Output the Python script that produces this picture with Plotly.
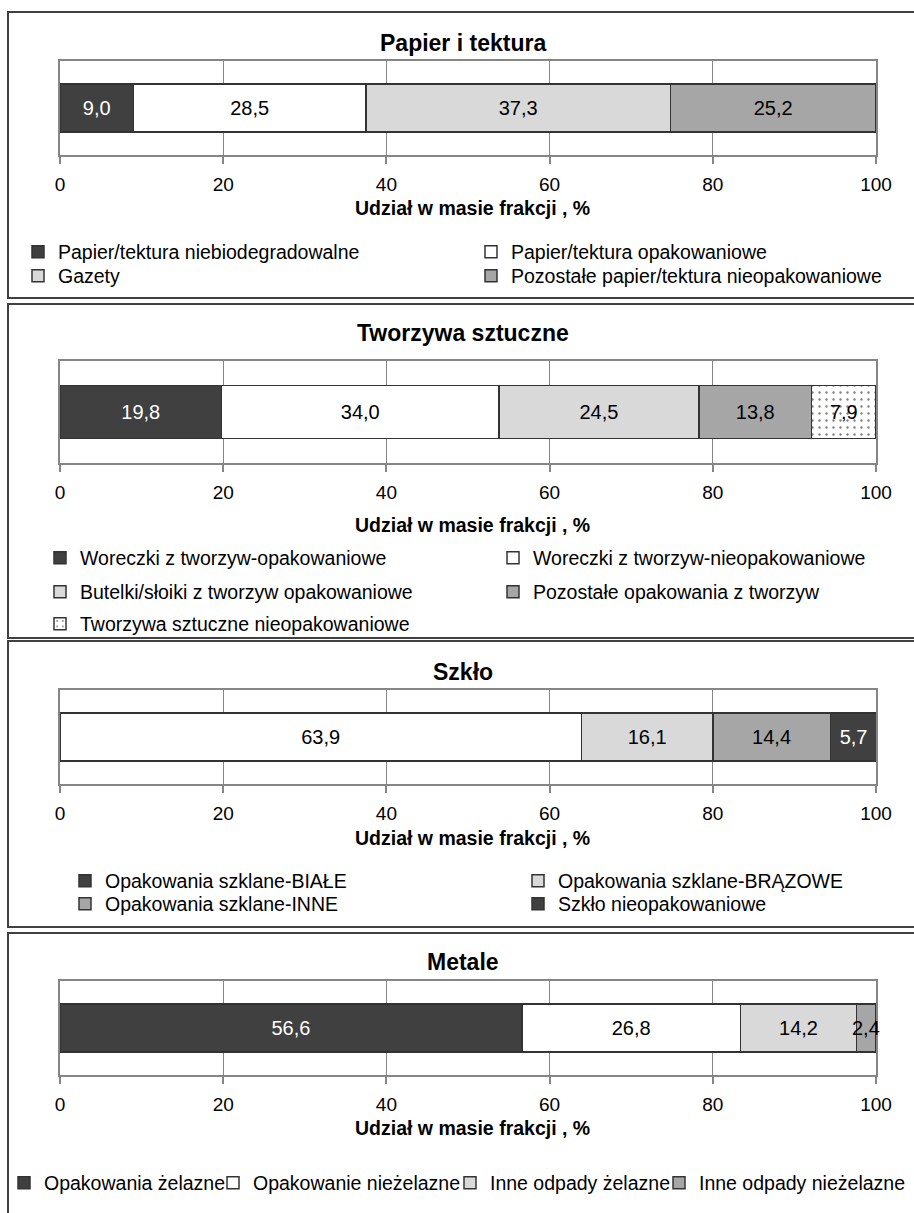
import plotly.graph_objects as go

W, H = 914, 1213

# ---------------- data ----------------
panel_titles = ["Papier i tektura", "Tworzywa sztuczne", "Szkło", "Metale"]
axis_title = "Udział w masie frakcji , %"
x_ticks = [0, 20, 40, 60, 80, 100]

papier_labels = ["Papier/tektura niebiodegradowalne", "Papier/tektura opakowaniowe",
                 "Gazety", "Pozostałe papier/tektura nieopakowaniowe"]
papier_values = [9.0, 28.5, 37.3, 25.2]

tworzywa_labels = ["Woreczki z tworzyw-opakowaniowe", "Woreczki z tworzyw-nieopakowaniowe",
                   "Butelki/słoiki z tworzyw opakowaniowe", "Pozostałe opakowania z tworzyw",
                   "Tworzywa sztuczne nieopakowaniowe"]
tworzywa_values = [19.8, 34.0, 24.5, 13.8, 7.9]

szklo_labels = ["Opakowania szklane-BIAŁE", "Opakowania szklane-BRĄZOWE",
                "Opakowania szklane-INNE", "Szkło nieopakowaniowe"]
szklo_values = [63.9, 16.1, 14.4, 5.7]

metale_labels = ["Opakowania żelazne", "Opakowanie nieżelazne",
                 "Inne odpady żelazne", "Inne odpady nieżelazne"]
metale_values = [56.6, 26.8, 14.2, 2.4]

# ---------------- styles ----------------
DARK, WHITE, LIGHT, MID = "#404040", "#ffffff", "#d9d9d9", "#a6a6a6"
FONT = "Liberation Sans, Arial, sans-serif"
OUTLINE = "#333333"
GRID = "#868686"

def py(y):
    return 1 - y / H

def px(x):
    return x / W

def fmt(v):
    return f"{v:.1f}".replace(".", ",")

panels = [
    dict(labels=papier_labels, values=papier_values,
         colors=[DARK, WHITE, LIGHT, MID], legend_colors=[DARK, WHITE, LIGHT, MID],
         txtcol=["white", "black", "black", "black"],
         plot=(61, 155), title_y=43, atitle_y=208,
         rows=[([0, 1], 252), ([2, 3], 276)], text_x=58, colw=[408, 400]),
    dict(labels=tworzywa_labels, values=tworzywa_values,
         colors=[DARK, WHITE, LIGHT, MID, "pattern"], legend_colors=None,
         txtcol=["white", "black", "black", "black", "black"],
         plot=(361, 463), title_y=333, atitle_y=525,
         rows=[([0, 1], 558), ([2, 3], 592), ([4], 624)], text_x=80, colw=[408, 400]),
    dict(labels=szklo_labels, values=szklo_values,
         colors=[WHITE, LIGHT, MID, DARK], legend_colors=[DARK, LIGHT, MID, DARK],
         txtcol=["black", "black", "black", "white"],
         plot=(690, 784), title_y=672, atitle_y=838,
         rows=[([0, 1], 881), ([2, 3], 904)], text_x=105, colw=[408, 400]),
    dict(labels=metale_labels, values=metale_values,
         colors=[DARK, WHITE, LIGHT, MID], legend_colors=None,
         txtcol=["white", "black", "black", "black"],
         plot=(981, 1075), title_y=962, atitle_y=1128,
         rows=[([0, 1, 2, 3], 1183)], text_x=44, colw=[164, 192, 164, 205]),
]
borders = [(12, 298), (304, 638), (641, 927), (933, 1230)]

fig = go.Figure()
layout = dict(
    width=W, height=H,
    margin=dict(l=0, r=0, t=0, b=0, autoexpand=False),
    paper_bgcolor="white", plot_bgcolor="white",
    barmode="stack", bargap=0.485,
    separators=", ",
    showlegend=True,
    font=dict(family=FONT, color="black", size=19),
    annotations=[], shapes=[],
)

legend_counter = 0
for pi, p in enumerate(panels):
    n = pi + 1
    xa = "x" if n == 1 else f"x{n}"
    ya = "y" if n == 1 else f"y{n}"
    cat = panel_titles[pi]

    # legends for this panel: one legend per row
    item_legend = {}
    for items, row_y in p["rows"]:
        legend_counter += 1
        lid = "legend" if legend_counter == 1 else f"legend{legend_counter}"
        layout[lid] = dict(
            orientation="h", x=px(p["text_x"] - 40), xanchor="left",
            y=py(row_y), yanchor="middle", traceorder="normal",
            font=dict(family=FONT, size=19.5, color="black"),
            bgcolor="rgba(0,0,0,0)", borderwidth=0,
            entrywidthmode="pixels",
        )
        for k, it in enumerate(items):
            item_legend[it] = (lid, p["colw"][k] if len(items) > 1 else 0)

    cum = 0.0
    for i, (lab, val) in enumerate(zip(p["labels"], p["values"])):
        col = p["colors"][i]
        if col == "pattern":
            marker = dict(color="white",
                          pattern=dict(shape=".", fgcolor="black", bgcolor="white",
                                       size=7, solidity=0.09, fillmode="overlay"),
                          line=dict(color=OUTLINE, width=1.5))
        else:
            marker = dict(color=col, line=dict(color=OUTLINE, width=1.5))
        lid, lw = item_legend[i]
        separate_legend = p["legend_colors"] is not None and p["legend_colors"][i] != col
        narrow = val < 4  # label wider than its bar: drawn unclipped as annotation
        tr = dict(
            x=[val], y=[cat], orientation="h", name=lab,
            xaxis=xa, yaxis=ya, marker=marker,
            texttemplate="%{x:.1f}", textposition="none" if narrow else "inside",
            textangle=0, insidetextanchor="middle", constraintext="none",
            textfont=dict(family=FONT, size=20, color=p["txtcol"][i]),
            legend=lid, showlegend=not separate_legend,
            hovertemplate=lab + ": %{x:.1f}%<extra></extra>",
        )
        if lw:
            tr["legendwidth"] = lw
        fig.add_trace(go.Bar(**tr))
        if narrow:
            layout["annotations"].append(dict(
                text=fmt(val), x=cum + val / 2, y=cat, xref=xa, yref=ya,
                xanchor="center", yanchor="middle", showarrow=False,
                font=dict(family=FONT, size=20, color=p["txtcol"][i])))
        cum += val
        if separate_legend:
            # legend-only entry reproducing the reference's legend swatch colour
            lt = dict(x=[None], y=[cat], orientation="h", name=lab,
                      xaxis=xa, yaxis=ya, legend=lid, showlegend=True,
                      marker=dict(color=p["legend_colors"][i], line=dict(color=OUTLINE, width=1.5)),
                      hoverinfo="skip")
            if lw:
                lt["legendwidth"] = lw
            fig.add_trace(go.Bar(**lt))

    top, bot = p["plot"]
    xkey = "xaxis" if n == 1 else f"xaxis{n}"
    ykey = "yaxis" if n == 1 else f"yaxis{n}"
    layout[xkey] = dict(
        domain=[px(60), px(876)], anchor=ya, range=[0, 100],
        tickvals=x_ticks, ticktext=[str(t) for t in x_ticks],
        showgrid=True, gridcolor=GRID, gridwidth=1, zeroline=False,
        showline=True, mirror=True, linecolor=GRID, linewidth=1.5,
        ticks="outside", ticklen=7, tickwidth=1.5, tickcolor=GRID,
        tickfont=dict(family=FONT, size=19, color="black"),
        ticklabelstandoff=4, fixedrange=True,
    )
    layout[ykey] = dict(
        domain=[py(bot), py(top)], anchor=xa, showticklabels=False,
        showgrid=False, zeroline=False, showline=True, mirror=True,
        linecolor=GRID, linewidth=1.5, ticks="", fixedrange=True,
    )
    layout["annotations"].append(dict(
        text=f"<b>{panel_titles[pi]}</b>", x=px(463), y=py(p["title_y"]),
        xref="paper", yref="paper", xanchor="center", yanchor="middle",
        showarrow=False, font=dict(family=FONT, size=23, color="black")))
    layout["annotations"].append(dict(
        text=f"<b>{axis_title}</b>", x=px(472), y=py(p["atitle_y"]),
        xref="paper", yref="paper", xanchor="center", yanchor="middle",
        showarrow=False, font=dict(family=FONT, size=19.5, color="black")))
    bt, bb = borders[pi]
    layout["shapes"].append(dict(
        type="rect", xref="paper", yref="paper", x0=px(8), x1=1.05,
        y0=py(bb), y1=py(bt), line=dict(color="#404040", width=2),
        fillcolor="rgba(0,0,0,0)", layer="below"))

fig.update_layout(**layout)
fig.write_html(
    "out.html",
    config={"displayModeBar": False},
    post_script="document.body.style.margin='0px';document.body.style.padding='0px';"
                "document.body.style.overflow='hidden';",
)
